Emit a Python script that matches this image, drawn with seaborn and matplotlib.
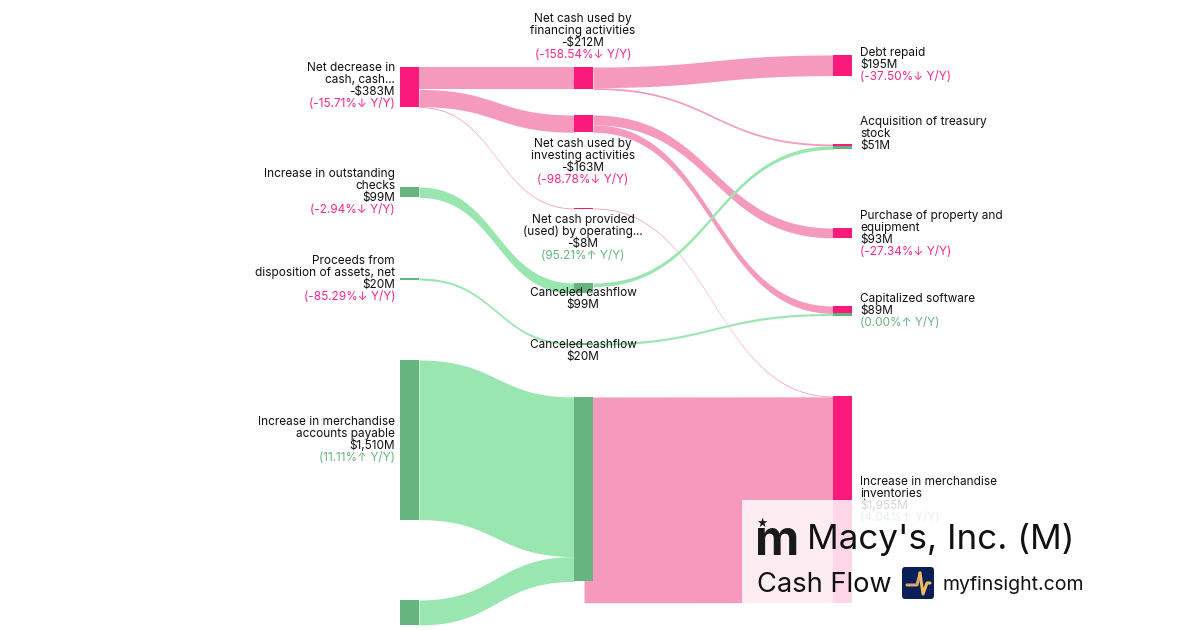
import numpy as np
import seaborn as sns
import matplotlib
matplotlib.use('Agg')
import matplotlib.pyplot as plt
from matplotlib.patches import Rectangle, FancyBboxPatch

# cash flow values, $M
link_source = ['decrease', 'decrease', 'decrease', 'checks', 'proceeds', 'payable', 'other',
               'financing', 'financing', 'investing', 'investing', 'operating',
               'cancel99', 'cancel20', 'merged']
link_target = ['financing', 'investing', 'operating', 'cancel99', 'cancel20', 'merged', 'merged',
               'debt', 'treasury', 'property', 'software', 'inventories',
               'treasury', 'software', 'inventories']
link_value = [212, 163, 8, 99, 20, 1510, 235,
              195, 17, 93, 70, 8,
              34, 20, 1947]
link_kind = ['down', 'down', 'down', 'up', 'up', 'up', 'up',
             'down', 'down', 'down', 'down', 'down',
             'up', 'up', 'down']

node_names = ['decrease', 'checks', 'proceeds', 'payable', 'other',
              'financing', 'investing', 'operating', 'cancel99', 'cancel20', 'merged',
              'debt', 'treasury', 'property', 'software', 'inventories']
node_value = [383, 99, 20, 1510, 235,
              212, 163, 8, 99, 20, 1745,
              195, 51, 93, 89, 1955]
node_kind = ['down', 'up', 'up', 'up', 'up',
             'down', 'down', 'down', 'up', 'up', 'up',
             'down', 'down', 'down', 'down', 'down']

# label lines: text and colour key
left_labels = [
    (['Net decrease in', 'cash, cash...', '-$383M'], '(-15.71%↓ Y/Y)', 'down'),
    (['Increase in outstanding', 'checks', '$99M'], '(-2.94%↓ Y/Y)', 'down'),
    (['Proceeds from', 'disposition of assets, net', '$20M'], '(-85.29%↓ Y/Y)', 'down'),
    (['Increase in merchandise', 'accounts payable', '$1,510M'], '(11.11%↑ Y/Y)', 'up'),
]
mid_labels = [
    (['Net cash used by', 'financing activities', '-$212M'], '(-158.54%↓ Y/Y)', 'down'),
    (['Net cash used by', 'investing activities', '-$163M'], '(-98.78%↓ Y/Y)', 'down'),
    (['Net cash provided', '(used) by operating...', '-$8M'], '(95.21%↑ Y/Y)', 'up'),
    (['Canceled cashflow', '$99M'], None, None),
    (['Canceled cashflow', '$20M'], None, None),
]
right_labels = [
    (['Debt repaid', '$195M'], '(-37.50%↓ Y/Y)', 'down'),
    (['Acquisition of treasury', 'stock', '$51M'], None, None),
    (['Purchase of property and', 'equipment', '$93M'], '(-27.34%↓ Y/Y)', 'down'),
    (['Capitalized software', '$89M'], '(0.00%↑ Y/Y)', 'up'),
    (['Increase in merchandise', 'inventories', '$1,955M'], '(4.04%↑ Y/Y)', 'up'),
]

# layout in pixels
PX_PER_M = 0.1057
NODE_W = 19
column_x = {'left': 400, 'mid': 574, 'right': 833}
node_column = ['left'] * 5 + ['mid'] * 6 + ['right'] * 5
node_top = [67, 187, 278, 360, 600,
            67, 115, 208, 283, 343, 397,
            55, 144, 228, 306, 396]
left_label_y = [68, 174, 261, 422]
mid_label_y = [19, 144, 220, 293, 345]
right_label_y = [53, 122, 216, 299, 482]
LINE_H = 12

strong = {'down': '#F91A7C', 'up': '#66B581'}
ribbon = {'down': '#F59ABD', 'up': '#99E6B0'}
text_color = {'down': '#F7278A', 'up': '#66B581'}

sns.set_theme(style='white')
plt.rcParams['font.family'] = ['Inter', 'DejaVu Sans']

fig = plt.figure(figsize=(12, 6.3), dpi=100)
ax = fig.add_axes([0, 0, 1, 1])
ax.set_xlim(0, 1200)
ax.set_ylim(630, 0)
ax.axis('off')
sns.despine(ax=ax, left=True, bottom=True)

tops = dict(zip(node_names, node_top))
cols = dict(zip(node_names, node_column))
out_used = {n: 0.0 for n in node_names}
in_used = {n: 0.0 for n in node_names}


def bezier(p0, p1, p2, p3, t):
    return (1 - t) ** 3 * p0 + 3 * (1 - t) ** 2 * t * p1 + 3 * (1 - t) * t ** 2 * p2 + t ** 3 * p3


# ribbons
t = np.linspace(0, 1, 200)
for src, dst, val, kind in zip(link_source, link_target, link_value, link_kind):
    h = val * PX_PER_M
    x0 = column_x[cols[src]] + NODE_W
    if src == 'merged':
        # this ribbon is wider than its node and starts under it
        x0 = column_x[cols[src]] + 10
    x1 = column_x[cols[dst]]
    y0 = tops[src] + out_used[src]
    y1 = tops[dst] + in_used[dst]
    out_used[src] += h
    in_used[dst] += h
    xm = (x0 + x1) / 2
    xs = bezier(x0, xm, xm, x1, t)
    ys = bezier(y0, y0, y1, y1, t)
    ax.fill_between(xs, ys, ys + h, color=ribbon[kind], lw=0, zorder=2)

# nodes
for name, val, kind in zip(node_names, node_value, node_kind):
    if cols[name] != 'right':
        ax.add_patch(Rectangle((column_x[cols[name]], tops[name]), NODE_W, val * PX_PER_M,
                               color=strong[kind], lw=0, zorder=3))

# right column nodes take the colour of each incoming ribbon
in_used = {n: 0.0 for n in node_names}
for dst, val, kind in zip(link_target, link_value, link_kind):
    h = val * PX_PER_M
    if cols[dst] == 'right':
        ax.add_patch(Rectangle((column_x['right'], tops[dst] + in_used[dst]), NODE_W, h,
                               color=strong[kind], lw=0, zorder=3))
    in_used[dst] += h


def draw_label(x, y, lines, change, kind, ha):
    for i, line in enumerate(lines):
        ax.text(x, y + i * LINE_H, line, ha=ha, va='center', fontsize=8.5, color='#111111', zorder=4)
    if change:
        ax.text(x, y + len(lines) * LINE_H, change, ha=ha, va='center', fontsize=8.5,
                color=text_color[kind], zorder=4)


for (lines, change, kind), y in zip(left_labels, left_label_y):
    draw_label(395, y, lines, change, kind, 'right')
for (lines, change, kind), y in zip(mid_labels, mid_label_y):
    draw_label(583, y, lines, change, kind, 'center')
for (lines, change, kind), y in zip(right_labels, right_label_y):
    draw_label(860, y, lines, change, kind, 'left')

# branding block
ax.add_patch(Rectangle((742, 500), 358, 130, color='white', alpha=0.83, lw=0, zorder=5))
ax.text(755, 555, 'm', fontsize=35, fontweight='bold', color='#1A1A1A', ha='left', va='baseline', zorder=6)
ax.text(762, 523, '★', fontsize=9, color='#1A1A1A', ha='center', va='center', zorder=6,
        family=['DejaVu Sans'])
ax.text(807, 540, "Macy's, Inc. (M)", fontsize=25.2, color='#111111', ha='left', va='center', zorder=6)
ax.text(757, 585, 'Cash Flow', fontsize=19.6, color='#111111', ha='left', va='center', zorder=6)
ax.add_patch(FancyBboxPatch((902, 567), 32, 32, boxstyle='round,pad=0,rounding_size=3',
                            color='#0A1F57', lw=0, zorder=6))
ax.plot([907, 917, 920], [585, 585, 573], color='#D4A574', lw=2.2,
        solid_capstyle='round', solid_joinstyle='round', zorder=7)
ax.plot([920, 923, 927, 930], [573, 594, 583, 583], color='#EDBE58', lw=2.2,
        solid_capstyle='round', solid_joinstyle='round', zorder=7)
ax.text(943, 585, 'myfinsight.com', fontsize=14, color='#111111', ha='left', va='center', zorder=6)

fig.savefig('out.png', dpi=100)
